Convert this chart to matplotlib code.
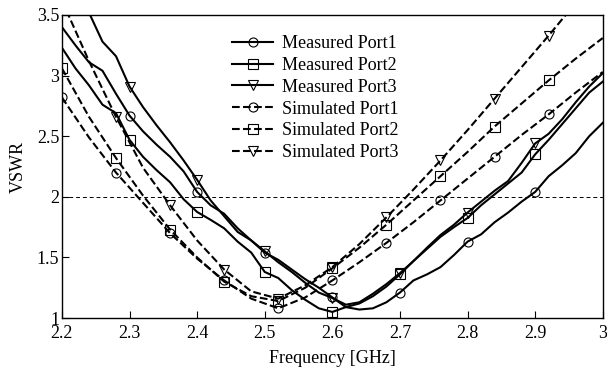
import matplotlib
matplotlib.use('Agg')
import matplotlib.pyplot as plt
from matplotlib.lines import Line2D
import numpy as np

plt.rcParams['font.family'] = ['Liberation Serif', 'DejaVu Serif']

# measured data, 0.02 GHz steps
freq_meas = [2.20, 2.22, 2.24, 2.26, 2.28, 2.30, 2.32, 2.34, 2.36, 2.38,
             2.40, 2.42, 2.44, 2.46, 2.48, 2.50, 2.52, 2.54, 2.56, 2.58,
             2.60, 2.62, 2.64, 2.66, 2.68, 2.70, 2.72, 2.74, 2.76, 2.78,
             2.80, 2.82, 2.84, 2.86, 2.88, 2.90, 2.92, 2.94, 2.96, 2.98, 3.00]
meas_port1 = [3.40, 3.25, 3.11, 3.04, 2.85, 2.67, 2.54, 2.43, 2.33, 2.21,
              2.04, 1.93, 1.86, 1.74, 1.64, 1.54, 1.48, 1.40, 1.32, 1.25,
              1.17, 1.09, 1.07, 1.08, 1.13, 1.21, 1.31, 1.36, 1.42, 1.52,
              1.63, 1.69, 1.79, 1.87, 1.96, 2.04, 2.17, 2.26, 2.36, 2.50, 2.61]
meas_port2 = [3.23, 3.06, 2.92, 2.76, 2.69, 2.47, 2.33, 2.22, 2.12, 1.98,
              1.875, 1.81, 1.74, 1.63, 1.54, 1.38, 1.33, 1.23, 1.15, 1.08,
              1.05, 1.09, 1.12, 1.18, 1.26, 1.36, 1.47, 1.57, 1.67, 1.75,
              1.825, 1.93, 2.02, 2.11, 2.20, 2.35, 2.47, 2.60, 2.73, 2.86, 2.95]
meas_port3 = [3.85, 3.68, 3.52, 3.28, 3.16, 2.91, 2.74, 2.59, 2.45, 2.30,
              2.14, 1.97, 1.84, 1.71, 1.64, 1.55, 1.46, 1.38, 1.29, 1.21,
              1.165, 1.11, 1.13, 1.20, 1.28, 1.37, 1.47, 1.58, 1.685, 1.77,
              1.87, 1.96, 2.05, 2.13, 2.28, 2.44, 2.52, 2.64, 2.78, 2.91, 3.02]

# simulated data, 0.04 GHz steps
freq_sim = [2.20, 2.24, 2.28, 2.32, 2.36, 2.40, 2.44, 2.48, 2.52, 2.56,
            2.60, 2.64, 2.68, 2.72, 2.76, 2.80, 2.84, 2.88, 2.92, 2.96, 3.00]
sim_port1 = [2.82, 2.49, 2.20, 1.95, 1.70, 1.49, 1.31, 1.16, 1.08, 1.17,
             1.31, 1.46, 1.62, 1.79, 1.97, 2.15, 2.33, 2.51, 2.68, 2.86, 3.03]
sim_port2 = [3.06, 2.66, 2.32, 2.01, 1.73, 1.50, 1.30, 1.18, 1.14, 1.25,
             1.41, 1.58, 1.77, 1.97, 2.17, 2.37, 2.58, 2.77, 2.96, 3.14, 3.31]
sim_port3 = [3.62, 3.12, 2.66, 2.24, 1.93, 1.64, 1.40, 1.22, 1.16, 1.27,
             1.42, 1.61, 1.83, 2.06, 2.30, 2.55, 2.81, 3.07, 3.33, 3.60, 3.88]

labels = ['Measured Port1', 'Measured Port2', 'Measured Port3',
          'Simulated Port1', 'Simulated Port2', 'Simulated Port3']
markers = ['o', 's', 'v']

fig = plt.figure(figsize=(6.07, 3.70), dpi=100)
ax = fig.add_axes([0.102, 0.1405, 0.891, 0.819])

mk = dict(markersize=6.5, markerfacecolor='none', markeredgewidth=0.8, color='k')
for ys, m in zip([meas_port1, meas_port2, meas_port3], markers):
    ax.plot(freq_meas, ys, '-', lw=1.5, marker=m, markevery=slice(5, 36, 5), **mk)
for ys, m in zip([sim_port1, sim_port2, sim_port3], markers):
    ax.plot(freq_sim, ys, '--', lw=1.5, marker=m, markevery=slice(0, 19, 2), **mk)

ax.axhline(2, color='k', lw=0.7, linestyle=(0, (4, 3)))

ax.set_xlim(2.2, 3.0)
ax.set_ylim(1, 3.5)
ax.set_xticks(np.arange(2.2, 3.01, 0.1))
ax.set_xticklabels(['2.2', '2.3', '2.4', '2.5', '2.6', '2.7', '2.8', '2.9', '3'])
ax.set_yticks([1, 1.5, 2, 2.5, 3, 3.5])
ax.set_yticklabels(['1', '1.5', '2', '2.5', '3', '3.5'])
ax.tick_params(direction='in', length=5, width=0.8, labelsize=13)
ax.tick_params(axis='x', pad=5)
ax.tick_params(axis='y', pad=2)
for s in ax.spines.values():
    s.set_linewidth(1.0)

ax.set_xlabel('Frequency [GHz]', fontsize=13, labelpad=6)
ax.set_ylabel('VSWR', fontsize=13, labelpad=7)

handles = []
for i, lab in enumerate(labels):
    ls = '-' if i < 3 else '--'
    handles.append(Line2D([], [], linestyle=ls, lw=1.5, marker=markers[i % 3], **mk))
ax.legend(handles, labels, loc='upper left', bbox_to_anchor=(0.314, 0.934),
          frameon=False, fontsize=13, handlelength=2.3, handletextpad=0.5,
          labelspacing=0.27, borderpad=0, borderaxespad=0)

fig.savefig('out.png', dpi=100)
